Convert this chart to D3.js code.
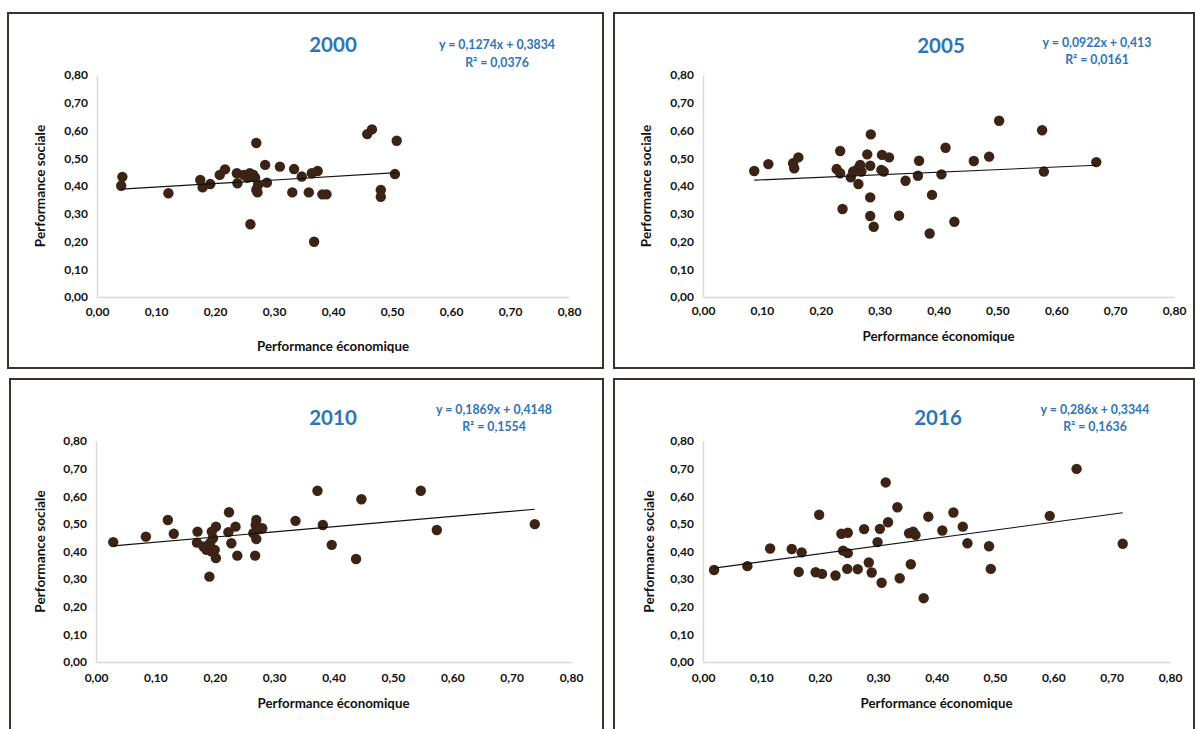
<!DOCTYPE html>
<html><head><meta charset="utf-8">
<script src="https://cdn.jsdelivr.net/npm/d3@7"></script>
<style>
html,body{margin:0;padding:0;background:#fff;}
svg{display:block;}
text{font-family:Lato,"Open Sans",sans-serif;}
</style></head>
<body><svg id="c" width="1195" height="729"></svg>
<script>
// ---- data ----
const years = ["2000","2005","2010","2016"];
const tickValues = [0,0.1,0.2,0.3,0.4,0.5,0.6,0.7,0.8];
const tickLabels = ["0,00","0,10","0,20","0,30","0,40","0,50","0,60","0,70","0,80"];
const xTitle = "Performance économique";
const yTitle = "Performance sociale";
const equations = ["y = 0,1274x + 0,3834","y = 0,0922x + 0,413","y = 0,1869x + 0,4148","y = 0,286x + 0,3344"];
const r2Labels = ["R² = 0,0376","R² = 0,0161","R² = 0,1554","R² = 0,1636"];
const slopes = [0.1274,0.0922,0.1869,0.286];
const intercepts = [0.3834,0.413,0.4148,0.3344];

const econ2000 = [0.043,0.041,0.121,0.175,0.179,0.192,0.208,0.217,0.237,0.238,0.249,0.259,0.265,0.270,0.272,0.273,0.270,0.285,0.288,0.310,0.334,0.347,0.364,0.374,0.331,0.359,0.382,0.389,0.260,0.368,0.458,0.466,0.508,0.505,0.481,0.481,0.255,0.268];
const social2000 = [0.433,0.401,0.374,0.422,0.395,0.407,0.440,0.460,0.446,0.410,0.440,0.446,0.440,0.386,0.377,0.404,0.555,0.476,0.412,0.470,0.461,0.434,0.446,0.454,0.377,0.377,0.370,0.370,0.262,0.199,0.587,0.604,0.563,0.443,0.386,0.361,0.430,0.430];

const econ2005 = [0.087,0.111,0.153,0.155,0.162,0.233,0.227,0.233,0.251,0.255,0.264,0.269,0.267,0.284,0.264,0.279,0.285,0.304,0.316,0.303,0.307,0.284,0.237,0.284,0.290,0.333,0.344,0.367,0.365,0.389,0.405,0.412,0.385,0.427,0.503,0.576,0.460,0.486,0.579,0.668];
const social2005 = [0.454,0.479,0.482,0.464,0.503,0.526,0.461,0.446,0.431,0.452,0.464,0.452,0.476,0.473,0.407,0.514,0.586,0.512,0.503,0.458,0.452,0.359,0.317,0.292,0.253,0.293,0.419,0.491,0.437,0.368,0.442,0.538,0.229,0.271,0.635,0.601,0.490,0.506,0.452,0.486];

const econ2010 = [0.029,0.084,0.121,0.131,0.171,0.170,0.181,0.186,0.195,0.200,0.192,0.197,0.195,0.202,0.202,0.191,0.224,0.223,0.235,0.228,0.238,0.268,0.270,0.269,0.265,0.276,0.280,0.270,0.336,0.373,0.382,0.397,0.447,0.547,0.574,0.739,0.438];
const social2010 = [0.434,0.454,0.514,0.464,0.472,0.432,0.418,0.406,0.400,0.406,0.430,0.448,0.472,0.490,0.376,0.309,0.542,0.470,0.490,0.430,0.385,0.385,0.514,0.496,0.466,0.481,0.484,0.445,0.511,0.620,0.496,0.424,0.589,0.620,0.478,0.499,0.373];

const econ2016 = [0.019,0.076,0.115,0.152,0.169,0.164,0.193,0.204,0.199,0.227,0.237,0.248,0.240,0.248,0.247,0.265,0.276,0.284,0.289,0.299,0.303,0.306,0.313,0.317,0.333,0.337,0.356,0.353,0.360,0.364,0.386,0.378,0.410,0.429,0.445,0.453,0.490,0.493,0.594,0.640,0.719];
const social2016 = [0.333,0.347,0.411,0.409,0.397,0.326,0.325,0.319,0.533,0.313,0.464,0.468,0.403,0.394,0.337,0.336,0.481,0.360,0.324,0.434,0.482,0.287,0.650,0.506,0.560,0.303,0.354,0.466,0.472,0.460,0.526,0.231,0.476,0.541,0.490,0.430,0.419,0.337,0.529,0.699,0.428];

const econ = [econ2000,econ2005,econ2010,econ2016];
const social = [social2000,social2005,social2010,social2016];

// ---- layout ----
const layouts = [
  {box:[8,13,603,368], x0:97, x1:569, y0:297, y1:75, xlabY:313, xtitleY:348, ytitleX:42, titleX:333, titleY:47, eqX:497, eqY:46, r2Y:64},
  {box:[614,13,1194,368], x0:703, x1:1174, y0:297, y1:75, xlabY:312, xtitleY:338, ytitleX:648, titleX:941, titleY:48, eqX:1097, eqY:44, r2Y:61},
  {box:[10,379,603,740], x0:96, x1:571, y0:662, y1:441, xlabY:679, xtitleY:705, ytitleX:42, titleX:333, titleY:420, eqX:494, eqY:411, r2Y:428},
  {box:[614,379,1194,740], x0:703, x1:1170, y0:662, y1:441, xlabY:679, xtitleY:705, ytitleX:651, titleX:938, titleY:420, eqX:1095, eqY:411, r2Y:428}
];

const svg = d3.select("#c");
const blue = "#2e75b6";
const dotColor = "#3b2415";

layouts.forEach((L,i)=>{
  const g = svg.append("g");
  const [bx0,by0,bx1,by1] = L.box;
  g.append("rect").attr("x",bx0).attr("y",by0).attr("width",bx1-bx0).attr("height",by1-by0)
    .attr("fill","#fff").attr("stroke","#3d3128").attr("stroke-width",2);

  const x = d3.scaleLinear().domain([0,0.8]).range([L.x0,L.x1]);
  const y = d3.scaleLinear().domain([0,0.8]).range([L.y0,L.y1]);

  // axes
  const xa = g.append("g").attr("transform",`translate(0,${L.y0})`)
    .call(d3.axisBottom(x).tickValues(tickValues).tickFormat((d,k)=>tickLabels[k]).tickSize(0).tickPadding(10));
  const ya = g.append("g").attr("transform",`translate(${L.x0},0)`)
    .call(d3.axisLeft(y).tickValues(tickValues).tickFormat((d,k)=>tickLabels[k]).tickSize(0).tickPadding(9));
  [xa,ya].forEach(a=>{
    a.select(".domain").attr("stroke","#d9d9d9").attr("stroke-width",1.5);
    a.selectAll("text").attr("font-family","Lato,sans-serif").attr("font-size",12).attr("font-weight","bold").attr("fill","#111");
  });
  xa.selectAll("text").attr("dy",null).attr("y",L.xlabY-L.y0).attr("dominant-baseline","middle");

  // axis titles
  g.append("text").attr("x",(L.x0+L.x1)/2).attr("y",L.xtitleY).attr("text-anchor","middle")
    .attr("dominant-baseline","middle").attr("font-size",13.3).attr("font-weight","bold").attr("fill","#111").text(xTitle);
  g.append("text").attr("transform",`translate(${L.ytitleX},${(L.y0+L.y1)/2}) rotate(-90)`).attr("text-anchor","middle")
    .attr("dominant-baseline","middle").attr("font-size",13.6).attr("font-weight","bold").attr("fill","#111").text(yTitle);

  // chart title & equation
  g.append("text").attr("x",L.titleX).attr("y",L.titleY).attr("text-anchor","middle").attr("dominant-baseline","middle")
    .attr("font-size",20.5).attr("font-weight","bold").attr("fill",blue).text(years[i]);
  g.append("text").attr("x",L.eqX).attr("y",L.eqY).attr("text-anchor","middle").attr("dominant-baseline","middle")
    .attr("font-size",12.3).attr("font-weight","bold").attr("fill",blue).text(equations[i]);
  g.append("text").attr("x",L.eqX).attr("y",L.r2Y).attr("text-anchor","middle").attr("dominant-baseline","middle")
    .attr("font-size",12.3).attr("font-weight","bold").attr("fill",blue).text(r2Labels[i]);

  // points
  const pts = econ[i].map((v,k)=>({x:v,y:social[i][k]}));
  g.append("g").selectAll("circle").data(pts).join("circle")
    .attr("cx",d=>x(d.x)).attr("cy",d=>y(d.y)).attr("r",5.2).attr("fill",dotColor);

  // trend line
  const [mn,mx] = d3.extent(econ[i]);
  const line = d3.line().x(d=>x(d)).y(d=>y(slopes[i]*d+intercepts[i]));
  g.append("path").attr("d",line([mn,mx])).attr("fill","none").attr("stroke","#111").attr("stroke-width",1.1);
});
</script></body></html>
